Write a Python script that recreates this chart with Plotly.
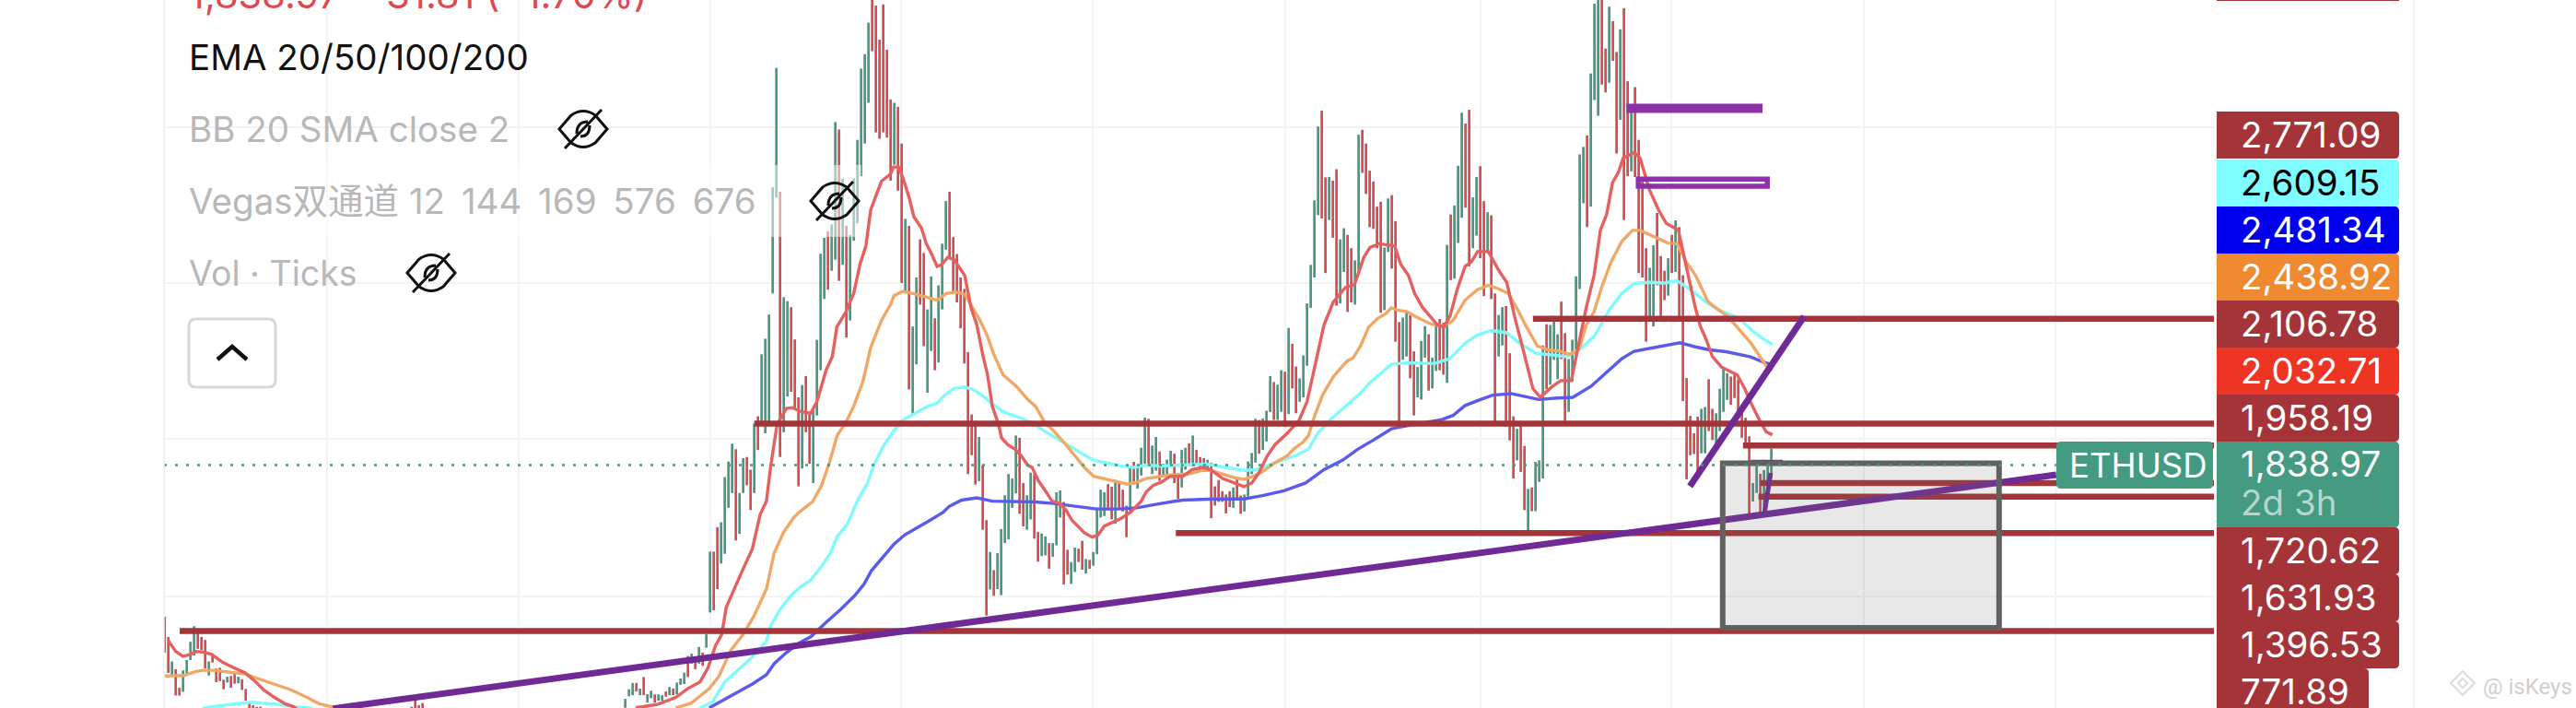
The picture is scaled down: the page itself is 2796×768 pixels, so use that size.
import plotly.graph_objects as go

# bars, three visible runs (the rest of the history is below the window)
run_starts = [0, 67, 125]
left_open = [1438, 1383, 1281, 1296, 1246, 1235, 1281, 1321, 1333, 1406,
             1383, 1375, 1279, 1337, 1298, 1300, 1268, 1260, 1278, 1288,
             1258, 1269, 1243, 1207, 1199, 1170, 1195]
left_close = [1341, 1286, 1317, 1225, 1225, 1293, 1321, 1370, 1412, 1351,
              1348, 1298, 1317, 1314, 1261, 1264, 1242, 1276, 1246, 1257,
              1276, 1240, 1211, 1170, 1170, 1195, 1170]
mid_open = [1170, 1224, 1199, 1205]
mid_close = [1195, 1170, 1170, 1170]
main_open = [1192, 1223, 1226, 1259, 1226,
             1275, 1206, 1218, 1228, 1211, 1211, 1236, 1226, 1244, 1228,
             1254, 1256, 1332, 1311, 1328, 1311, 1341, 1354, 1449, 1613,
             1679, 1581, 1607, 1731, 1771, 1889, 1661, 1771, 1868, 1834,
             1771, 1978, 1956, 1932, 1960, 2309, 2568, 2583, 1935, 2031,
             2272, 2185, 2029, 1837, 2086, 1990, 1798, 1980, 2102, 2294,
             2477, 2370, 2400, 2751, 2386, 2491, 2236, 2451, 2498, 2625,
             2713, 2823, 3100, 3085, 2993, 3088, 2966, 2832, 2656, 2812,
             2713, 2309, 2491, 1980, 2118, 2455, 2418, 2041, 2154, 2242,
             2123, 2266, 2427, 2583, 2461, 2415, 2352, 2321, 2151, 1983,
             1962, 1803, 1846, 1698, 1511, 1563, 1512, 1496, 1636, 1646,
             1731, 1770, 1920, 1798, 1672, 1700, 1822, 1666, 1601, 1603,
             1636, 1599, 1630, 1705, 1747, 1618, 1526, 1558, 1621, 1642,
             1554, 1591, 1575, 1606, 1705, 1709, 1795, 1788, 1688, 1798,
             1780, 1737, 1721, 1855, 1783, 1818, 1850, 1971, 1822, 1831,
             1883, 1818, 1810, 1843, 1877, 1822, 1786, 1834, 1905, 1843,
             1887, 1868, 1865, 1832, 1853, 1789, 1806, 1776, 1767, 1776,
             1731, 1808, 1764, 1721, 1761, 1822, 1853, 1968, 1887, 1910,
             1989, 2070, 1968, 1990, 2098, 1984, 2173, 2112, 2017, 2029,
             2114, 2270, 2352, 2520, 2802, 2622, 2507, 2613, 2644, 2282,
             2367, 2467, 2431, 2279, 2370, 2750, 2713, 2640, 2611, 2543,
             2556, 2264, 2421, 2574, 2504, 2232, 2130, 2139, 2251, 2153,
             2029, 2023, 2136, 2199, 2053, 2100, 2240, 2230, 2068, 2522,
             2349, 2445, 2513, 2767, 2804, 2431, 2465, 2652, 2558, 2418,
             2520, 2309, 2139, 2169, 2275, 2148, 1978, 1859, 1956, 1898,
             1660, 1786, 1722, 1801, 1810, 2226, 2063, 2130, 2078, 2287,
             2202, 1990, 2072, 2132, 2321, 2552, 2735, 2543, 2830, 2788,
             3100, 2969, 2877, 3043, 2960, 2777, 3078, 2881, 2638, 2865,
             2723, 2613, 2431, 2238, 2220, 2526, 2410, 2370, 2303, 2467,
             2367, 2488, 2358, 2081, 1979, 1932, 1977, 1878, 1878, 2078,
             1998, 1891, 1938, 1990, 2022, 2085, 2091, 2077, 1996, 1974,
             1924, 1748, 1771, 1823, 1721, 1791, 1812]
main_close = [1216, 1242, 1259, 1236, 1244,
              1226, 1229, 1238, 1206, 1228, 1226, 1222, 1248, 1226, 1260,
              1271, 1287, 1275, 1338, 1296, 1356, 1305, 1390, 1613, 1455,
              1512, 1692, 1814, 1856, 1904, 1643, 1771, 1865, 1792, 1725,
              1958, 1887, 2145, 2187, 2252, 2595, 2917, 1868, 2299, 2288,
              2044, 1999, 1789, 2062, 1935, 1850, 1996, 2184, 2416, 2459,
              2319, 2495, 2771, 2343, 2619, 2190, 2467, 2619, 2723, 2915,
              2954, 3039, 2962, 2743, 2726, 2743, 2729, 2613, 2823, 2586,
              2337, 2510, 2050, 2220, 2352, 2279, 2167, 2266, 2355, 2102,
              2331, 2443, 2558, 2404, 2315, 2285, 2215, 2120, 1822, 1873,
              1794, 1922, 1672, 1441, 1612, 1494, 1609, 1674, 1765, 1822,
              1810, 1926, 1715, 1681, 1765, 1826, 1648, 1586, 1662, 1654,
              1567, 1636, 1773, 1778, 1524, 1551, 1585, 1624, 1585, 1564,
              1593, 1567, 1612, 1731, 1780, 1773, 1725, 1700, 1806, 1731,
              1721, 1652, 1844, 1794, 1846, 1893, 1974, 1844, 1899, 1922,
              1804, 1850, 1861, 1885, 1798, 1755, 1887, 1893, 1843, 1926,
              1847, 1840, 1834, 1861, 1703, 1737, 1747, 1747, 1716, 1733,
              1786, 1755, 1715, 1767, 1856, 1879, 1971, 1877, 1972, 1993,
              2086, 1968, 2063, 2102, 1950, 2216, 2053, 1986, 2080, 2142,
              2282, 2386, 2560, 2759, 2511, 2364, 2623, 2459, 2276, 2455,
              2485, 2259, 2285, 2398, 2737, 2634, 2577, 2488, 2483, 2431,
              2257, 2433, 2565, 2376, 2179, 1962, 2244, 2260, 2080, 1980,
              2111, 2181, 2221, 2047, 2136, 2221, 2102, 2090, 2440, 2345,
              2546, 2653, 2796, 2540, 2382, 2568, 2623, 2404, 2302, 2528,
              2294, 1962, 2251, 2272, 1950, 1913, 1810, 1944, 1828, 1725,
              1782, 1722, 1855, 1859, 2169, 2051, 2224, 2248, 2199, 2132,
              1965, 2132, 2184, 2355, 2684, 2704, 2488, 2902, 3090, 3100,
              2872, 2851, 3082, 2936, 2686, 3021, 2507, 2625, 2808, 2623,
              2364, 2352, 2179, 2378, 2439, 2331, 2244, 2291, 2404, 2364,
              2506, 2248, 2019, 1808, 1873, 1876, 1831, 1998, 2003, 1938,
              1914, 1986, 2052, 2110, 2094, 2009, 2027, 1986, 1920, 1907,
              1709, 1798, 1852, 1709, 1833, 1848, 1891]

# moving averages, sampled along each curve
ema20_x = [1, 3, 5, 7, 8.6, 10.7, 12.8, 15.7, 18.6, 21.9, 24.4, 26.9, 29.8, 32.7, 35, 37.5, None,
           127.8, 133.7, 138.7, 142, 145.3, 147.4, 149.5, 151.2, 152.4, 154.5, 157, 159.5, 161.6, 163.3,
           164.5, 166.2, 168.7, 170.3, 172.8, 175.3, 177, 179.5, 181.2, 182.4, 184.9, 187, 188.7, 190.3,
           191.6, 194.5, 197, 197.8, 199.2, 200.4, 202.1, 203.3, 205.4, 206.7, 208.3, 209.6, 210.8, 212.5,
           214.2, 217.1, 218.8, 220.4, 222.1, 223.3, 224.6, 226.3, 227.1, 228.8, 230.8, 232.5, 234.2, 235.4,
           237.1, 238.8, 240.8, 242.9, 244.6, 246.2, 247.9, 249.6, 251.7, 253.3, 255, 257.5, 259.6, 262.1,
           265, 266.3, 268.3, 270.4, 272.9, 276.3, 278.8, 281.7, 283.8, 287.1, 290.4, 292.9, 295, 297.1,
           299.2, 301.3, 304.6, 307.9, 310, 312.1, 314.6, 317.1, 320.4, 322.9, 325.4, 327.1, 329.6, 333.8,
           335.4, 337.5, 339.2, 341.3, 342.9, 345.4, 347.1, 348.8, 350.8, 352.9, 354.6, 356.3, 359.2, 362.1,
           364.2, 366.3, 368.8, 371.3, 373.3, 376.3, 378.8, 381.7, 383.3, 385.8, 387.9, 389.6, 391.3, 392.9,
           394.6, 395.8, 398.8, 400.4, 402.9, 405.4, 407.5, 410.8, 412.9, 415.4, 416.7, 418.3, 420, 422.5,
           426.7, 428.8, 430.4, 432.9, 434.6, 436.3]
ema20_y = [1373, 1344, 1331, 1336, 1344, 1342, 1336, 1315, 1301, 1286, 1265, 1240, 1220, 1203, 1195, 1178, None,
           1192, 1201, 1220, 1244, 1262, 1299, 1360, 1390, 1463, 1512, 1567, 1621, 1713, 1749,
           1846, 1956, 1999, 2001, 1990, 1986, 2017, 2102, 2139, 2218, 2260, 2309, 2388, 2437,
           2534, 2611, 2631, 2650, 2650, 2619, 2565, 2516, 2485, 2443, 2412, 2382, 2386, 2406,
           2400, 2358, 2272, 2224, 2139, 2090, 2005, 1956, 1920, 1901, 1889, 1871, 1846, 1840,
           1804, 1780, 1749, 1743, 1725, 1698, 1682, 1664, 1652, 1658, 1682, 1694, 1703, 1719,
           1749, 1773, 1792, 1800, 1816, 1816, 1834, 1840, 1834, 1810, 1798, 1788, 1798, 1828,
           1871, 1901, 1932, 1968, 2017, 2114, 2224, 2285, 2325, 2333, 2406, 2433, 2443, 2437,
           2388, 2358, 2309, 2272, 2254, 2224, 2218, 2248, 2321, 2382, 2394, 2422, 2422, 2370,
           2339, 2248, 2151, 2053, 2029, 2056, 2074, 2074, 2151, 2272, 2358, 2479, 2522, 2607,
           2638, 2674, 2689, 2674, 2589, 2534, 2498, 2479, 2382, 2270, 2222, 2185, 2139, 2110,
           2090, 2052, 2015, 1965, 1936, 1928]
ema50_x = [0, 2.75, 5.25, 7.75, 10.25, 13.6, 17.75, 21.9, 25.25, 29.4, 34.4, 38.6, 41.9, 46.9, None,
           138.7, 142.8, 147.8, 150.3, 153.7, 157, 159.9, 163.3, 165.4, 167.9, 170.8, 172.9, 175.8, 178.3,
           180.4, 182.5, 184.9, 187, 189.5, 191.6, 194.5, 197, 197.9, 200.4, 203.8, 207.1, 209.6, 212.1,
           214.6, 217.1, 219.6, 221.3, 223.3, 225, 227.5, 231.3, 234.2, 236.3, 238.8, 241.3, 244.6, 247.1,
           249.6, 252.1, 255.4, 258.8, 261.3, 263.8, 266.3, 270.4, 272.9, 277.9, 281.3, 283.8, 287.1, 290.4,
           292.9, 295.4, 297.9, 301.3, 304.6, 306.3, 308.8, 310.4, 312.1, 314.2, 317.1, 318.8, 320.8, 322.5,
           324.6, 326.7, 329.2, 331.3, 332.9, 334.6, 337.1, 339.6, 342.9, 343.75, 347.1, 349.6, 352.9, 356.25,
           359.2, 362.1, 364.6, 367.1, 369.6, 372.5, 375.4, 378.75, 381.25, 383.75, 385.8, 387.9, 390, 392.5,
           395.4, 398.3, 400.4, 404.6, 407.9, 410.4, 412.9, 415.4, 417.1, 418.75, 421.25, 424.2, 427.1, 430.4,
           432.9, 434.6, 436.25]
ema50_y = [1278, 1278, 1279, 1288, 1293, 1293, 1288, 1283, 1271, 1257, 1240, 1220, 1203, 1191, None,
           1192, 1204, 1244, 1275, 1348, 1390, 1439, 1512, 1609, 1664, 1706, 1725, 1747, 1792,
           1853, 1926, 1962, 2005, 2072, 2163, 2236, 2279, 2303, 2315, 2307, 2299, 2291, 2309,
           2313, 2307, 2266, 2236, 2193, 2145, 2090, 2057, 2023, 2005, 1962, 1938, 1901, 1871,
           1840, 1816, 1808, 1800, 1795, 1800, 1810, 1816, 1820, 1822, 1832, 1832, 1822, 1812,
           1808, 1816, 1828, 1853, 1871, 1889, 1907, 1926, 1980, 2035, 2084, 2102, 2126, 2135,
           2169, 2218, 2242, 2254, 2270, 2264, 2260, 2246, 2230, 2226, 2221, 2236, 2291, 2319,
           2331, 2321, 2309, 2266, 2218, 2167, 2157, 2153, 2145, 2157, 2224, 2260, 2327, 2394,
           2449, 2479, 2479, 2461, 2445, 2443, 2394, 2358, 2321, 2288, 2268, 2247, 2214, 2176,
           2139, 2114, 2102]
ema100_x = [10.25, 16, 23.6, 31, 35.2, 40, None,
            145.3, 148.7, 152, 156.2, 159.5, 163.3, 164.5, 167, 169.9, 172.8, 175.3, 178.2, 180.7, 182.4,
            185.3, 188.2, 190.75, 192.4, 194.9, 197.8, 200.4, 203.75, 207.1, 209.6, 211.7, 214.2, 217.1, 220,
            222.5, 224.6, 227.5, 231.25, 235.4, 238.75, 242.9, 246.25, 249.6, 252.1, 255.4, 259.6, 262.9, 266.25,
            270.4, 274.6, 282.9, 287.9, 292.9, 296.25, 299.6, 302.9, 307.1, 310.4, 312.9, 316.25, 318.75, 322.1,
            324.6, 327.1, 330.4, 332.9, 337.1, 341.25, 342.9, 344.6, 348.75, 352.9, 356.25, 360, 364.2, 367.9,
            372.1, 375.4, 380.4, 384.6, 387.9, 392.1, 395.4, 398.75, 402.9, 407.1, 410.4, 412.9, 415.4, 419.6,
            422.9, 427.1, 431.25, 434.6, 436.25]
ema100_y = [1191, 1199, 1207, 1201, 1195, 1191, None,
            1192, 1208, 1262, 1299, 1329, 1372, 1414, 1457, 1494, 1520, 1536, 1573, 1609, 1652,
            1688, 1755, 1798, 1846, 1895, 1938, 1968, 1986, 2005, 2013, 2035, 2053, 2057, 2047,
            2029, 2011, 1990, 1977, 1960, 1938, 1913, 1895, 1873, 1859, 1853, 1844, 1840, 1846,
            1844, 1846, 1849, 1840, 1832, 1834, 1846, 1859, 1873, 1889, 1932, 1968, 1990, 2017,
            2041, 2069, 2096, 2118, 2122, 2122, 2120, 2120, 2133, 2175, 2197, 2209, 2203, 2173,
            2148, 2145, 2139, 2163, 2193, 2266, 2309, 2336, 2339, 2337, 2343, 2327, 2309, 2276,
            2259, 2243, 2205, 2181, 2172]
ema200_x = [147.8, 152, 156.2, 159.5, 163.3, 165.4, 168.75, 172.1, 175.4, 179.6, 183.4, 187.2, 189.7, 191.75,
            194.7, 198, 200.8, 203.75, 207.1, 211.25, 212.9, 216.25, 220.4, 224.6, 230.4, 236.25, 241.25, 247.1,
            252.9, 258.75, 263.75, 270.4, 276.25, 284.6, 292.9, 297.9, 303.75, 309.6, 314.6, 319.6, 323.75, 327.9,
            332.9, 337.9, 342.9, 346.25, 349.6, 352.9, 357.1, 360.4, 365.4, 368.75, 372.9, 377.9, 382.1, 387.1,
            391.25, 395.4, 398.75, 403.75, 408.75, 411.25, 415.4, 419.2, 423.75, 427.1, 430.4, 433.75, 436.25]
ema200_y = [1192, 1214, 1238, 1256, 1281, 1311, 1341, 1366, 1384, 1423, 1457, 1494, 1524, 1561,
            1597, 1634, 1658, 1676, 1694, 1719, 1735, 1752, 1758, 1749, 1749, 1747, 1743, 1735,
            1728, 1728, 1731, 1743, 1752, 1755, 1755, 1764, 1777, 1798, 1834, 1859, 1889, 1913,
            1944, 1954, 1962, 1968, 1980, 2007, 2023, 2035, 2039, 2031, 2023, 2027, 2029, 2059,
            2096, 2133, 2153, 2163, 2173, 2176, 2165, 2157, 2152, 2146, 2138, 2124, 2117]

# drawn horizontal levels: price and the bar they start from
level_prices = [1399, 1958, 2241, 1663, 1899, 1798, 1761]
level_starts = [4.1, 160, 371.3, 274.4, 428.3, 432.9, 432.5]
last_price_y = 1846

# drawn trend lines as (bar, price) ends
long_trend_x, long_trend_y = [45.7, 513.3], [1190, 1820]
steep_trend_x, steep_trend_y = [413.9, 444.9], [1789, 2247]
tail_trend_x, tail_trend_y = [434.1, 435.8], [1713, 1825]
thin_trend_x, thin_trend_y = [430.4, 439.1], [1859, 1859]
zone_bar_x, zone_bar_y = [396.7, 433.6], [2808, 2808]
zone_box_x, zone_box_y = [399.9, 434.9], [2598, 2617]
gray_box_x, gray_box_y = [422.8, 497.8], [1408, 1851]

x_grid = [44.1, 96.1, 148, 199.8, 251.8, 304, 357, 408.8, 461, 513]
y_grid = [1492, 1916, 2337, 2758]

axis_labels = ["2,771.09", "2,609.15", "2,481.34", "2,438.92", "2,106.78", "2,032.71", "1,958.19", "1,720.62", "1,631.93", "1,396.53", "771.89"]
axis_fills = ["#a53439", "#7ffcff", "#0000ee", "#f08a30", "#a53439", "#ee3524", "#a53439", "#a53439", "#a53439", "#a53439", "#a53439"]
axis_text = ["white", "black", "white", "white", "white", "white", "white", "white", "white", "white", "white"]
axis_tops = [121, 173, 224, 275, 326, 377, 428, 572, 623, 674, 725]

GREEN = "#459a82"
RED = "#dc4a50"
LEVEL = "#a33439"
FONT = "Inter, Noto Sans CJK SC, sans-serif"

PLOT_L, PLOT_R = 178, 2403


def px(x):
    return (x - PLOT_L) / (PLOT_R - PLOT_L)


def py(y):
    return 1 - y / 768


def label(text, x, y, size, color, family=FONT):
    fig.add_annotation(text=text, x=px(x), y=py(y), xref="paper", yref="paper", xanchor="left", yanchor="middle",
                       showarrow=False, font=dict(family=family, size=size, color=color))


def rounded(x0, y0, x1, y1, r, left=False):
    a, b, c, d = px(x0), px(x1), py(y0), py(y1)
    rx, ry = r / (PLOT_R - PLOT_L), r / 768
    s = f"M {a+rx if left else a} {c} L {b-rx} {c} Q {b} {c} {b} {c-ry} L {b} {d+ry} Q {b} {d} {b-rx} {d}"
    if left:
        s += f" L {a+rx} {d} Q {a} {d} {a} {d+ry} L {a} {c-ry} Q {a} {c} {a+rx} {c} Z"
    else:
        s += f" L {a} {d} Z"
    return s


def eye(cx, cy):
    s = f"M {px(cx-26)} {py(cy)}"
    s += f" L {px(cx-13)} {py(cy-15)} Q {px(cx)} {py(cy-24)} {px(cx+13)} {py(cy-15)}"
    s += f" L {px(cx+26)} {py(cy)} L {px(cx+13)} {py(cy+15)} Q {px(cx)} {py(cy+24)} {px(cx-13)} {py(cy+15)} Z"
    s += f" M {px(cx-20)} {py(cy+21)} L {px(cx+20)} {py(cy-21)}"
    s += f" M {px(cx-7)} {py(cy+5)} Q {px(cx-7)} {py(cy-8)} {px(cx+5)} {py(cy-8)}"
    s += f" M {px(cx+7)} {py(cy-4)} Q {px(cx+7)} {py(cy+8)} {px(cx-3)} {py(cy+8)}"
    return s


def diamond(cx, cy, r):
    return f"M {px(cx-r)} {py(cy)} L {px(cx)} {py(cy-r)} L {px(cx+r)} {py(cy)} L {px(cx)} {py(cy+r)} Z"


fig = go.Figure()

# bars
for start, opens, closes in zip(run_starts, [left_open, mid_open, main_open], [left_close, mid_close, main_close]):
    xs = list(range(start, start + len(opens)))
    lows = [min(a, b) for a, b in zip(opens, closes)]
    tall = [abs(a - b) for a, b in zip(opens, closes)]
    cols = [GREEN if c >= o else RED for o, c in zip(opens, closes)]
    fig.add_trace(go.Bar(x=xs, y=tall, base=lows, width=0.68, marker=dict(color=cols, line_width=0)))

for lx, ly, col in [(ema200_x, ema200_y, "#5a5aee"), (ema100_x, ema100_y, "#80fbfb"),
                    (ema50_x, ema50_y, "#f1a765"), (ema20_x, ema20_y, "#e5605f")]:
    fig.add_trace(go.Scatter(x=lx, y=ly, mode="lines", line=dict(color=col, width=3.4), connectgaps=False))

for price, start in zip(level_prices, level_starts):
    fig.add_trace(go.Scatter(x=[start, 556.1], y=[price, price], mode="lines", line=dict(color=LEVEL, width=6.5)))

for lx, ly, w, col in [(long_trend_x, long_trend_y, 7, "#6f2a96"), (steep_trend_x, steep_trend_y, 7, "#6f2a96"),
                       (tail_trend_x, tail_trend_y, 5, "#6f2a96"), (thin_trend_x, thin_trend_y, 1.5, "#6f2a96"),
                       (zone_bar_x, zone_bar_y, 10, "#8e30a8")]:
    fig.add_trace(go.Scatter(x=lx, y=ly, mode="lines", line=dict(color=col, width=w)))

fig.add_shape(type="rect", x0=zone_box_x[0], x1=zone_box_x[1], y0=zone_box_y[0], y1=zone_box_y[1],
              line=dict(color="#8e30a8", width=5.5), fillcolor="rgba(0,0,0,0)")
fig.add_shape(type="rect", x0=gray_box_x[0], x1=gray_box_x[1], y0=gray_box_y[0], y1=gray_box_y[1],
              line=dict(color="#616161", width=6), fillcolor="rgba(110,110,110,0.16)")
fig.add_shape(type="line", x0=-0.17, x1=513.3, y0=last_price_y, y1=last_price_y,
              line=dict(color=GREEN, width=2.5, dash="3px,9px"))

# faded row behind the hidden indicator legend
fig.add_shape(type="rect", xref="paper", yref="paper", x0=px(178), x1=px(935), y0=py(257), y1=py(179),
              line_width=0, fillcolor="rgba(255,255,255,0.5)")

# frame lines either side of the price scale
fig.add_shape(type="line", xref="paper", yref="paper", x0=px(178), x1=px(178), y0=0, y1=1, line=dict(color="#eeeeee", width=1.5))
fig.add_shape(type="line", xref="paper", yref="paper", x0=px(2620), x1=px(2620), y0=0, y1=1, line=dict(color="#eeeeee", width=1.5))

# price scale tags
fig.add_shape(type="rect", xref="paper", yref="paper", x0=px(2406), x1=px(2604), y0=py(1), y1=1, fillcolor="#a53439", line_width=0)
for text, fill, col, top in zip(axis_labels, axis_fills, axis_text, axis_tops):
    right = 2571 if text == "771.89" else 2604
    fig.add_shape(type="path", xref="paper", yref="paper", path=rounded(2406, top, right, top + 51, 5),
                  fillcolor=fill, line_width=0)
    label(text, 2430, top + 25, 38.5, col)
fig.add_shape(type="path", xref="paper", yref="paper", path=rounded(2406, 479, 2604, 572, 5), fillcolor=GREEN, line_width=0)
label("1,838.97", 2430, 503, 38.5, "white")
label("2d 3h", 2430, 545, 38.5, "#b5d6cc")
fig.add_shape(type="path", xref="paper", yref="paper", path=rounded(2232, 479, 2402, 530, 5, left=True), fillcolor=GREEN, line_width=0)
label("ETHUSD", 2244, 505, 36.5, "white")

# legend block
label("1,838.97\u00a0\u00a0−31.81\u00a0(−1.70%)", 203, -6, 41.5, "#dc4a50")
label("EMA 20/50/100/200", 203, 62, 38.5, "#111111")
label("BB 20 SMA close 2", 203, 140, 38.5, "#b8b8b8")
label("Vegas双通道 12\u00a0\u2009144\u00a0\u2009169\u00a0\u2009576\u00a0\u2009676", 203, 218, 38.5, "#b8b8b8")
label("Vol · Ticks", 203, 296, 37.5, "#b8b8b8")
for cx, cy in [(633, 140), (906, 218), (468, 296)]:
    fig.add_shape(type="path", path=eye(cx, cy), line=dict(color="#111111", width=3), xref="paper", yref="paper")
fig.add_shape(type="path", xref="paper", yref="paper", path=rounded(205, 346, 299, 420, 8, left=True),
              line=dict(color="#d8d8d8", width=3), fillcolor="white")
fig.add_shape(type="path", xref="paper", yref="paper", line=dict(color="#111111", width=4.5),
              path=f"M {px(236)} {py(390)} L {px(252)} {py(376)} L {px(268)} {py(390)}")

# watermark
label("@ isKeys", 2693, 745, 24, "#cfcfcf", family="Roboto")
fig.add_shape(type="path", xref="paper", yref="paper", line=dict(color="#dcdcdc", width=2), path=diamond(2673, 741, 13))
fig.add_shape(type="path", xref="paper", yref="paper", line=dict(color="#dcdcdc", width=2), path=diamond(2673, 741, 5))

fig.update_layout(
    width=2796, height=768, margin=dict(l=PLOT_L, r=2796 - PLOT_R, t=0, b=0),
    paper_bgcolor="white", plot_bgcolor="white", showlegend=False, barmode="overlay",
    xaxis=dict(range=[-0.17, 556.1], tickvals=x_grid, showticklabels=False, ticks="", showgrid=True,
               gridcolor="#f3f3f3", gridwidth=2, zeroline=False, showline=False),
    yaxis=dict(range=[1191.5, 3100], tickvals=y_grid, showticklabels=False, ticks="", showgrid=True,
               gridcolor="#f3f3f3", gridwidth=2, zeroline=False, showline=False),
)

fig.write_html("out.html", post_script="document.body.style.margin='0'", config={"displayModeBar": False})
